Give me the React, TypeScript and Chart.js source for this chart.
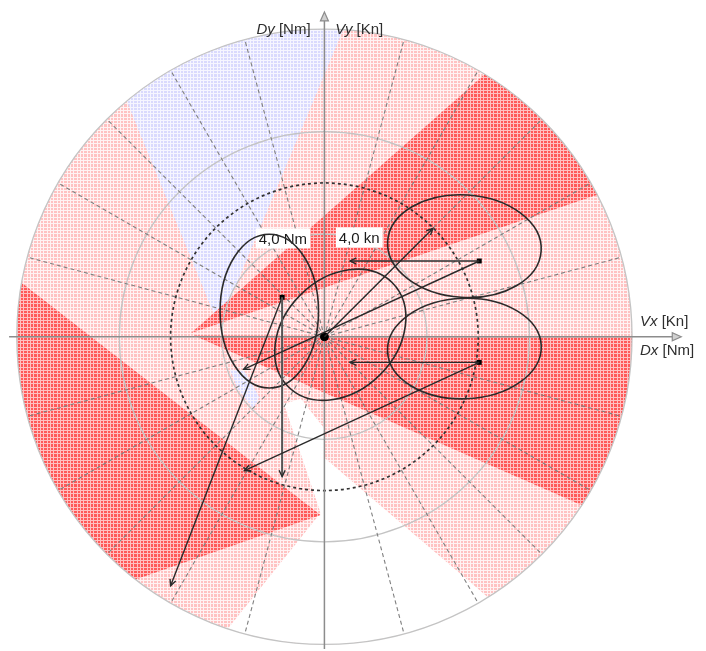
import { useEffect, useRef } from "react";
import { Chart, registerables } from "chart.js";

Chart.register(...registerables);

// Visible window in plot units (1 unit = 1 kn / 1 Nm), origin at the vessel
const X_MIN = -12.46;
const X_MAX = 14.69;
const Y_MIN = -12.08;
const Y_MAX = 12.96;

// Polar grid
const outerRadius = 12;
const ringRadii = [4, 8, 12];
const limitRing = 6;
const spokeAngles = [15, 30, 45, 60, 75, 105, 120, 135, 150, 165, 195, 210, 225, 240, 255, 285, 300, 315, 330, 345];

// Shaded sectors: apex, start/end angle on the outer ring (deg), shade
const sectorApexX = [-4.12, -5.2, -5.1, -0.15];
const sectorApexY = [0.42, 0.15, 0.05, -6.96];
const sectorFrom = [86.5, 27.5, -33.2, 169.9];
const sectorTo = [130, 58.6, 0, 232.1];
const sectorShade = ["blue", "red", "red", "red"];

// Unshaded (clear) region towards the stern
const clearX = [-1.58, -0.92, 0, 0];
const clearY = [-2.62, -2.42, -3.58, -4.73];
const clearArc = [-57.9, -108.3];
const clearTip = [-0.15, -6.88];

// Small blue patch left of the stern
const patchX = [-3.69, -3.12, -2.54, -2.77, -3.38];
const patchY = [-1.27, -1.35, -2.35, -2.81, -2.04];

// Positions (squares)
const vesselX = [6.04, 6.04, -1.65];
const vesselY = [2.96, -1.0, 1.54];

// Vectors
const vecFromX = [6.04, 6.04, 0, 6.04, 6.04, -1.65, -1.65];
const vecFromY = [2.96, -1.0, 0, 2.96, -1.0, 1.54, 1.54];
const vecToX = [1.0, 1.0, 4.23, -3.15, -3.12, -1.65, -6.0];
const vecToY = [2.96, -1.0, 4.23, -1.27, -5.23, -5.46, -9.73];

// Uncertainty ellipses: centre, semi-axes, rotation (deg, counter-clockwise)
const ellCX = [-2.15, 0.62, 5.46, 5.46];
const ellCY = [1.0, 0.08, 3.54, -0.46];
const ellRX = [1.92, 2.87, 3.0, 3.0];
const ellRY = [3.0, 2.2, 2.0, 1.96];
const ellRot = [0, 45, -3.6, 2];

// Ring value labels
const ringLabels = ["4,0 Nm", "4,0 kn"];
const ringLabelX = [-1.62, 1.36];
const ringLabelY = [3.84, 3.88];

// Axis extents and titles
const axisX = [-12.3, 13.92];
const axisY = [-12.2, 12.69];
const axisTitleVar = ["Dy", "Vy", "Vx", "Dx"];
const axisTitleUnit = [" [Nm]", " [Kn]", " [Kn]", " [Nm]"];
const axisTitleX = [-0.54, 0.42, 12.31, 12.31];
const axisTitleY = [12.0, 12.0, 0.6, -0.55];
const axisTitleAlign = ["right", "left", "left", "left"];

const FONT = '"Liberation Sans", Arial, Helvetica, sans-serif';
const D = Math.PI / 180;

function makeGrid(fill: string, line: string): CanvasPattern {
  const c = document.createElement("canvas");
  c.width = 10;
  c.height = 10;
  const g = c.getContext("2d")!;
  g.fillStyle = fill;
  g.fillRect(0, 0, 10, 10);
  g.fillStyle = line;
  for (const p of [0, 3, 7]) {
    g.fillRect(p, 0, 1, 10);
    g.fillRect(0, p, 10, 1);
  }
  return g.createPattern(c, "repeat")!;
}

function makePlotPlugin(patterns: Record<string, CanvasPattern>) {
  const geo = (chart: any) => {
    const xs = chart.scales.x;
    const ys = chart.scales.y;
    const px = (v: number) => xs.getPixelForValue(v);
    const py = (v: number) => ys.getPixelForValue(v);
    const ox = px(0);
    const oy = py(0);
    const unit = px(1) - ox;
    return { px, py, ox, oy, unit };
  };

  return {
    id: "capabilityPlot",
    beforeDatasetsDraw(chart: any) {
      const ctx: CanvasRenderingContext2D = chart.ctx;
      const { px, py, ox, oy, unit } = geo(chart);
      const R = outerRadius * unit;
      const rimPt = (deg: number) => [ox + R * Math.cos(deg * D), oy - R * Math.sin(deg * D)];
      const arcBetween = (a1: number, a2: number) => ctx.arc(ox, oy, R, -a1 * D, -a2 * D, a2 > a1);

      ctx.save();
      // disc
      ctx.beginPath();
      ctx.arc(ox, oy, R, 0, Math.PI * 2);
      ctx.fillStyle = patterns.pink;
      ctx.fill();

      // clear area
      ctx.beginPath();
      ctx.moveTo(px(clearX[0]), py(clearY[0]));
      for (let i = 1; i < clearX.length; i++) ctx.lineTo(px(clearX[i]), py(clearY[i]));
      const c0 = rimPt(clearArc[0]);
      ctx.lineTo(c0[0], c0[1]);
      arcBetween(clearArc[0], clearArc[1]);
      ctx.lineTo(px(clearTip[0]), py(clearTip[1]));
      ctx.closePath();
      ctx.fillStyle = "#ffffff";
      ctx.fill();

      // sectors
      sectorApexX.forEach((ax, i) => {
        ctx.beginPath();
        ctx.moveTo(px(ax), py(sectorApexY[i]));
        const s = rimPt(sectorFrom[i]);
        ctx.lineTo(s[0], s[1]);
        arcBetween(sectorFrom[i], sectorTo[i]);
        ctx.closePath();
        ctx.fillStyle = patterns[sectorShade[i]];
        ctx.fill();
      });

      // blue patch
      ctx.beginPath();
      patchX.forEach((x, i) => (i ? ctx.lineTo(px(x), py(patchY[i])) : ctx.moveTo(px(x), py(patchY[i]))));
      ctx.closePath();
      ctx.fillStyle = patterns.blue;
      ctx.fill();

      // rings
      ctx.strokeStyle = "#c4c4c4";
      ctx.lineWidth = 1.3;
      ringRadii.forEach((r) => {
        ctx.beginPath();
        ctx.arc(ox, oy, r * unit, 0, Math.PI * 2);
        ctx.stroke();
      });

      // spokes
      ctx.strokeStyle = "#808080";
      ctx.lineWidth = 1.1;
      ctx.setLineDash([4, 3]);
      spokeAngles.forEach((a) => {
        const e = rimPt(a);
        ctx.beginPath();
        ctx.moveTo(ox, oy);
        ctx.lineTo(e[0], e[1]);
        ctx.stroke();
      });

      // limit ring
      ctx.strokeStyle = "#333333";
      ctx.lineWidth = 1.7;
      ctx.setLineDash([3, 3]);
      ctx.beginPath();
      ctx.arc(ox, oy, limitRing * unit, 0, Math.PI * 2);
      ctx.stroke();
      ctx.setLineDash([]);

      // axes
      ctx.strokeStyle = "#8c8c8c";
      ctx.lineWidth = 1.5;
      ctx.beginPath();
      ctx.moveTo(px(axisX[0]), oy);
      ctx.lineTo(px(axisX[1]) - 8, oy);
      ctx.moveTo(ox, py(axisY[0]));
      ctx.lineTo(ox, py(axisY[1]) + 8);
      ctx.stroke();
      ctx.lineWidth = 1.2;
      ctx.beginPath();
      const hx = px(axisX[1]);
      ctx.moveTo(hx, oy);
      ctx.lineTo(hx - 9, oy - 4);
      ctx.lineTo(hx - 9, oy + 4);
      ctx.closePath();
      const vy = py(axisY[1]);
      ctx.moveTo(ox, vy);
      ctx.lineTo(ox - 4, vy + 9);
      ctx.lineTo(ox + 4, vy + 9);
      ctx.closePath();
      ctx.fillStyle = "#d0d0d0";
      ctx.fill();
      ctx.stroke();

      // ring value labels
      ctx.font = `15px ${FONT}`;
      ctx.textAlign = "center";
      ctx.textBaseline = "middle";
      ringLabels.forEach((t, i) => {
        const w = ctx.measureText(t).width;
        const x = px(ringLabelX[i]);
        const y = py(ringLabelY[i]);
        ctx.fillStyle = "#ffffff";
        ctx.fillRect(x - w / 2 - 3, y - 10, w + 6, 20);
        ctx.fillStyle = "#1a1a1a";
        ctx.fillText(t, x, y + 1);
      });

      // ellipses
      ctx.strokeStyle = "#2b2b2b";
      ctx.lineWidth = 1.6;
      ellCX.forEach((cx, i) => {
        ctx.beginPath();
        ctx.ellipse(px(cx), py(ellCY[i]), ellRX[i] * unit, ellRY[i] * unit, -ellRot[i] * D, 0, Math.PI * 2);
        ctx.stroke();
      });
      ctx.restore();
    },
    afterDatasetsDraw(chart: any) {
      const ctx: CanvasRenderingContext2D = chart.ctx;
      const { px, py } = geo(chart);
      ctx.save();
      // arrow heads
      ctx.strokeStyle = "#2a2a2a";
      ctx.lineWidth = 1.4;
      vecToX.forEach((tx, i) => {
        const x1 = px(tx);
        const y1 = py(vecToY[i]);
        const a = Math.atan2(y1 - py(vecFromY[i]), x1 - px(vecFromX[i]));
        ctx.beginPath();
        ctx.moveTo(x1 - 7 * Math.cos(a - 0.45), y1 - 7 * Math.sin(a - 0.45));
        ctx.lineTo(x1, y1);
        ctx.lineTo(x1 - 7 * Math.cos(a + 0.45), y1 - 7 * Math.sin(a + 0.45));
        ctx.stroke();
      });

      // axis titles
      ctx.textBaseline = "middle";
      ctx.textAlign = "left";
      ctx.fillStyle = "#2e2e2e";
      axisTitleVar.forEach((v, i) => {
        ctx.font = `italic 15px ${FONT}`;
        const w1 = ctx.measureText(v).width;
        ctx.font = `15px ${FONT}`;
        const w2 = ctx.measureText(axisTitleUnit[i]).width;
        const x = px(axisTitleX[i]);
        const y = py(axisTitleY[i]);
        const start = axisTitleAlign[i] === "right" ? x - w1 - w2 : x;
        ctx.font = `italic 15px ${FONT}`;
        ctx.fillText(v, start, y);
        ctx.font = `15px ${FONT}`;
        ctx.fillText(axisTitleUnit[i], start + w1, y);
      });
      ctx.restore();
    },
  };
}

export default function App() {
  const ref = useRef<HTMLCanvasElement>(null);

  useEffect(() => {
    const canvas = ref.current;
    if (!canvas) return;
    const patterns = {
      pink: makeGrid("#ffc2c2", "#fff3f3"),
      red: makeGrid("#ff5858", "#ffc0c0"),
      blue: makeGrid("#dadafd", "#f6f6ff"),
    };

    const vectorSets = vecFromX.map((x0, i) => ({
      data: [
        { x: x0, y: vecFromY[i] },
        { x: vecToX[i], y: vecToY[i] },
      ],
      showLine: true,
      borderColor: i === 5 ? "#555555" : "#2a2a2a",
      borderWidth: i === 5 ? 2 : 1.4,
      pointRadius: 0,
      fill: false,
    }));

    const chart = new Chart(canvas, {
      type: "scatter",
      data: {
        datasets: [
          ...vectorSets,
          {
            data: vesselX.map((x, i) => ({ x, y: vesselY[i] })),
            pointStyle: "rect",
            pointRadius: 3.5,
            backgroundColor: "#000000",
            borderColor: "#000000",
            borderWidth: 0,
          },
          {
            data: [{ x: 0, y: 0 }],
            pointStyle: "circle",
            pointRadius: 4,
            backgroundColor: "#000000",
            borderColor: "#000000",
          },
        ] as any,
      },
      options: {
        responsive: false,
        animation: false,
        events: [],
        layout: { padding: 0 },
        plugins: { legend: { display: false }, tooltip: { enabled: false } },
        scales: {
          x: { type: "linear", display: false, min: X_MIN, max: X_MAX },
          y: { type: "linear", display: false, min: Y_MIN, max: Y_MAX },
        },
      },
      plugins: [makePlotPlugin(patterns)],
    });
    return () => chart.destroy();
  }, []);

  return (
    <div style={{ position: "absolute", left: 0, top: 0, width: 706, height: 651, background: "#ffffff" }}>
      <canvas ref={ref} width={706} height={651} style={{ display: "block", width: 706, height: 651 }} />
    </div>
  );
}
